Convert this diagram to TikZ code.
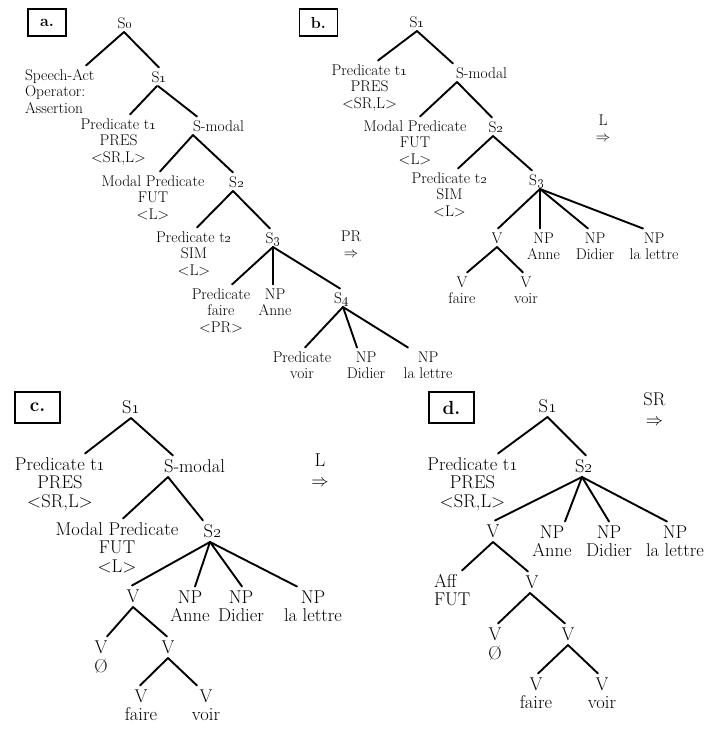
\documentclass[tikz,border=0pt]{standalone}
\newcommand\osn[1]{\oldstylenums{#1}}
\newcommand\cstack[1]{\begin{tabular}[t]{@{}c@{}}#1\end{tabular}}
\newcommand\lstack[1]{\begin{tabular}[t]{@{}l@{}}#1\end{tabular}}
% branch from parent baseline (shifted) to child baseline (shifted)
\newcommand\conn[6]{\draw[branch] ([xshift=#2pt,yshift=-#5pt]#1.base) -- ([xshift=#4pt,yshift=#6pt]#3.base);}
\newcommand\ca[4]{\conn{#1}{#2}{#3}{#4}{4}{14.5}}
\newcommand\cb[4]{\conn{#1}{#2}{#3}{#4}{5}{16.5}}
\tikzset{
  lbl/.style={inner sep=0pt, outer sep=0pt, anchor=base},
  fa/.style={font=\fontsize{15.5}{16.5}\selectfont},
  fb/.style={font=\fontsize{18.5}{18.5}\selectfont},
  branch/.style={line width=1.9pt, line cap=round},
  tagA/.style={draw, line width=1.5pt, minimum width=38pt, minimum height=27pt, inner sep=0pt, font=\fontsize{16}{16}\selectfont\bfseries},
  tagB/.style={draw, line width=1.5pt, minimum width=45pt, minimum height=31pt, inner sep=0pt, font=\fontsize{19}{19}\selectfont\bfseries},
}
\begin{document}
\begin{tikzpicture}[x=1pt,y=-1pt]
\useasboundingbox[fill=white] (0,0) rectangle (710,729);

% ---------- a. ----------
\node[tagA] (a-tag) at (47,22.5) {a.};
\node[lbl,fa] (a-s0) at (125,28) {S\osn{0}};
\node[lbl,fa,anchor=base west] (a-sa) at (25,80) {\lstack{Speech-Act\\Operator:\\Assertion}};
\node[lbl,fa] (a-s1) at (159,82) {S\osn{1}};
\node[lbl,fa] (a-pt1) at (118.5,129) {\cstack{Predicate t\osn{1}\\PRES\\<SR,L>}};
\node[lbl,fa] (a-sm) at (218.5,131) {S-modal};
\node[lbl,fa] (a-mp) at (153,186) {\cstack{Modal Predicate\\FUT\\<L>}};
\node[lbl,fa] (a-s2) at (236.5,187) {S\osn{2}};
\node[lbl,fa] (a-pt2) at (194,242) {\cstack{Predicate t\osn{2}\\SIM\\<L>}};
\node[lbl,fa] (a-s3) at (273,243) {S\osn{3}};
\node[lbl,fa] (a-pf) at (221,299) {\cstack{Predicate\\faire\\<PR>}};
\node[lbl,fa] (a-npa) at (275,299) {\cstack{NP\\Anne}};
\node[lbl,fa] (a-s4) at (341.5,303) {S\osn{4}};
\node[lbl,fa] (a-pv) at (302,362) {\cstack{Predicate\\voir}};
\node[lbl,fa] (a-npd) at (366,362) {\cstack{NP\\Didier}};
\node[lbl,fa] (a-npl) at (428,362) {\cstack{NP\\la lettre}};
\node[lbl,fa] (a-rule) at (351,241) {\cstack{PR\\$\Rightarrow$}};

\draw[branch] ([xshift=-1pt,yshift=-4pt]a-s0.base) -- ([xshift=61pt,yshift=14.5pt]a-sa.base west);
\ca{a-s0}{-1}{a-s1}{0}
\ca{a-s1}{-2}{a-pt1}{11.5}
\ca{a-s1}{-1}{a-sm}{-21.5}
\ca{a-sm}{-25.5}{a-mp}{7}
\ca{a-sm}{-25.5}{a-s2}{-3.5}
\ca{a-s2}{-3.5}{a-pt2}{3}
\ca{a-s2}{-3.5}{a-s3}{-3}
\ca{a-s3}{0}{a-pf}{11}
\ca{a-s3}{0}{a-npa}{-2}
\ca{a-s3}{0}{a-s4}{-1.5}
\ca{a-s4}{1.5}{a-pv}{3}
\ca{a-s4}{1.5}{a-npd}{-9}
\ca{a-s4}{1.5}{a-npl}{-20}

% ---------- b. ----------
\node[tagA] (b-tag) at (318.5,22.5) {b.};
\node[lbl,fa] (b-s1) at (417,27) {S\osn{1}};
\node[lbl,fa] (b-pt1) at (369.5,75) {\cstack{Predicate t\osn{1}\\PRES\\<SR,L>}};
\node[lbl,fa] (b-sm) at (481.5,78) {S-modal};
\node[lbl,fa] (b-mp) at (415,131) {\cstack{Modal Predicate\\FUT\\<L>}};
\node[lbl,fa] (b-s2) at (496,132) {S\osn{2}};
\node[lbl,fa] (b-pt2) at (449.5,183) {\cstack{Predicate t\osn{2}\\SIM\\<L>}};
\node[lbl,fa] (b-s3) at (536.5,185) {S\osn{3}};
\node[lbl,fa] (b-v) at (497,243) {V};
\node[lbl,fa] (b-npa) at (543.5,243) {\cstack{NP\\Anne}};
\node[lbl,fa] (b-npd) at (595,243) {\cstack{NP\\Didier}};
\node[lbl,fa] (b-npl) at (654,243) {\cstack{NP\\la lettre}};
\node[lbl,fa] (b-vf) at (462,287) {\cstack{V\\faire}};
\node[lbl,fa] (b-vv) at (526,287) {\cstack{V\\voir}};
\node[lbl,fa] (b-rule) at (603,125) {\cstack{L\\$\Rightarrow$}};

\ca{b-s1}{0}{b-pt1}{8.5}
\ca{b-s1}{0}{b-sm}{-28.5}
\ca{b-sm}{-24.5}{b-mp}{5}
\ca{b-sm}{-24.5}{b-s2}{-4}
\ca{b-s2}{-3}{b-pt2}{8.5}
\ca{b-s2}{-3}{b-s3}{-4.5}
\ca{b-s3}{3.5}{b-v}{1}
\ca{b-s3}{3.5}{b-npa}{-3.5}
\ca{b-s3}{3.5}{b-npd}{-7}
\ca{b-s3}{3.5}{b-npl}{-11}
\ca{b-v}{0}{b-vf}{5}
\ca{b-v}{0}{b-vv}{-3}

% ---------- c. ----------
\node[tagB] (c-tag) at (37.5,407.5) {c.};
\node[lbl,fb] (c-s1) at (131,413) {S\osn{1}};
\node[lbl,fb] (c-pt1) at (60,470) {\cstack{Predicate t\osn{1}\\PRES\\<SR,L>}};
\node[lbl,fb] (c-sm) at (194.5,472) {S-modal};
\node[lbl,fb] (c-mp) at (117,535) {\cstack{Modal Predicate\\FUT\\<L>}};
\node[lbl,fb] (c-s2) at (212.5,537) {S\osn{2}};
\node[lbl,fb] (c-v) at (133,602) {V};
\node[lbl,fb] (c-npa) at (190,603) {\cstack{NP\\Anne}};
\node[lbl,fb] (c-npd) at (241,603) {\cstack{NP\\Didier}};
\node[lbl,fb] (c-npl) at (313,603) {\cstack{NP\\la lettre}};
\node[lbl,fb] (c-v1) at (101,653) {\cstack{V\\Ø}};
\node[lbl,fb] (c-v2) at (168,653) {V};
\node[lbl,fb] (c-vf) at (141,702) {\cstack{V\\faire}};
\node[lbl,fb] (c-vv) at (206,702) {\cstack{V\\voir}};
\node[lbl,fb] (c-rule) at (320,466) {\cstack{L\\[2pt]$\Rightarrow$}};

\cb{c-s1}{0}{c-pt1}{25}
\cb{c-s1}{0}{c-sm}{-21.5}
\cb{c-sm}{-26.5}{c-mp}{6}
\cb{c-sm}{-26.5}{c-s2}{-9.5}
\cb{c-s2}{-2.5}{c-v}{-1}
\cb{c-s2}{-2.5}{c-npa}{5}
\cb{c-s2}{-2.5}{c-npd}{1}
\cb{c-s2}{-2.5}{c-npl}{-16}
\cb{c-v}{0}{c-v1}{6}
\cb{c-v}{0}{c-v2}{-1}
\cb{c-v2}{0}{c-vf}{-1}
\cb{c-v2}{0}{c-vv}{-9}

% ---------- d. ----------
\node[tagB] (d-tag) at (451.5,407.5) {d.};
\node[lbl,fb] (d-s1) at (547.5,412) {S\osn{1}};
\node[lbl,fb] (d-rule) at (654.5,405) {\cstack{SR\\[2pt]$\Rightarrow$}};
\node[lbl,fb] (d-pt1) at (472.5,470) {\cstack{Predicate t\osn{1}\\PRES\\<SR,L>}};
\node[lbl,fb] (d-s2) at (584,472) {S\osn{2}};
\node[lbl,fb] (d-v) at (493,537) {V};
\node[lbl,fb] (d-npa) at (552,538) {\cstack{NP\\Anne}};
\node[lbl,fb] (d-npd) at (609,538) {\cstack{NP\\Didier}};
\node[lbl,fb] (d-npl) at (675,538) {\cstack{NP\\la lettre}};
\node[lbl,fb,anchor=base west] (d-aff) at (434,587) {\lstack{Aff\\FUT}};
\node[lbl,fb] (d-v2) at (532,588) {V};
\node[lbl,fb] (d-v3) at (495,640) {\cstack{V\\Ø}};
\node[lbl,fb] (d-v4) at (568,640) {V};
\node[lbl,fb] (d-vf) at (536,690) {\cstack{V\\faire}};
\node[lbl,fb] (d-vv) at (602,690) {\cstack{V\\voir}};

\cb{d-s1}{0}{d-pt1}{25.5}
\cb{d-s1}{0}{d-s2}{2}
\cb{d-s2}{-2}{d-v}{2}
\cb{d-s2}{-2}{d-npa}{13}
\cb{d-s2}{-2}{d-npd}{0}
\cb{d-s2}{-2}{d-npl}{-8}
\draw[branch] ([yshift=-5pt]d-v.base) -- ([xshift=28pt,yshift=16.5pt]d-aff.base west);
\cb{d-v}{0}{d-v2}{-4}
\cb{d-v2}{-2}{d-v3}{3}
\cb{d-v2}{-2}{d-v4}{-3}
\cb{d-v4}{0}{d-vf}{2}
\cb{d-v4}{0}{d-vv}{-4}
\end{tikzpicture}
\end{document}
